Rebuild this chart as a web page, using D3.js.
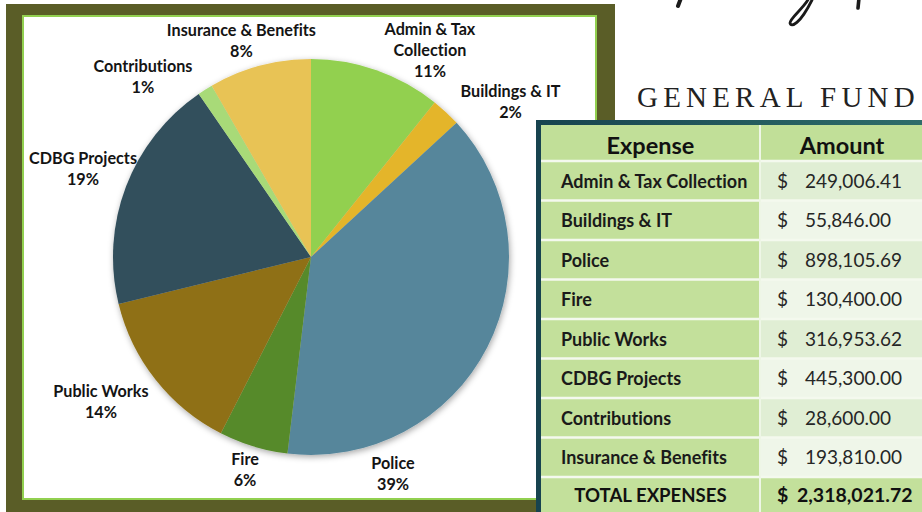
<!DOCTYPE html>
<html>
<head>
<meta charset="utf-8">
<script src="https://cdn.jsdelivr.net/npm/d3@7"></script>
<style>
  html, body { margin: 0; padding: 0; background: #ffffff; }
  svg { display: block; }
  text { font-variant-ligatures: none; font-feature-settings: "liga" 0, "clig" 0; }
</style>
</head>
<body>
<svg id="chart" width="922" height="512"></svg>
<script>
// ---------- data ----------
const categories = ["Admin & Tax Collection", "Buildings & IT", "Police", "Fire", "Public Works", "CDBG Projects", "Contributions", "Insurance & Benefits"];
const amounts = [249006.41, 55846.00, 898105.69, 130400.00, 316953.62, 445300.00, 28600.00, 193810.00];
const pieLabelLines = [["Admin & Tax", "Collection"], ["Buildings & IT"], ["Police"], ["Fire"], ["Public Works"], ["CDBG Projects"], ["Contributions"], ["Insurance & Benefits"]];
const tableHeaders = ["Expense", "Amount"];
const totalLabel = "TOTAL EXPENSES";
const titleText = "GENERAL FUND";

// ---------- styles / layout ----------
const sliceColors = ["#92d050", "#e4b52b", "#56869b", "#578a2b", "#8f7014", "#324f5c", "#a8da78", "#e8c355"];
// label placement (angle in degrees clockwise from 12 o'clock, distance as multiple of radius)
const labelPlacement = [[30.6, 1.18], [53.1, 1.26], [159.8, 1.20], [196.8, 1.153], [234.4, 1.305], [289.8, 1.224], [316.0, 1.222], [341.7, 1.12]];

const svg = d3.select("#chart");

// ---------- frame ----------
svg.append("rect").attr("x", 6).attr("y", 4).attr("width", 609).attr("height", 508).attr("fill", "#5a5d27");
svg.append("rect").attr("x", 22).attr("y", 15).attr("width", 575).attr("height", 485).attr("fill", "#92d050");
svg.append("rect").attr("x", 24).attr("y", 17).attr("width", 571).attr("height", 481).attr("fill", "#ffffff");

// ---------- pie ----------
const defs = svg.append("defs");
const f = defs.append("filter").attr("id", "shadow").attr("x", "-20%").attr("y", "-20%").attr("width", "140%").attr("height", "140%");
f.append("feDropShadow").attr("dx", 1).attr("dy", 2).attr("stdDeviation", 3).attr("flood-color", "#000").attr("flood-opacity", 0.35);

const cx = 311, cy = 257, R = 198;
const pie = d3.pie().sort(null).value(d => d);
const arcs = pie(amounts);
const arc = d3.arc().innerRadius(0).outerRadius(R);
const total = d3.sum(amounts);
const pct = d3.format(".0%");

const pg = svg.append("g").attr("transform", `translate(${cx},${cy})`);
pg.append("g").attr("filter", "url(#shadow)")
  .selectAll("path").data(arcs).join("path")
  .attr("d", arc)
  .attr("fill", (d, i) => sliceColors[i]);

const lineH = 21;
const lg = pg.append("g")
  .attr("font-family", "Lato, 'Noto Sans', sans-serif")
  .attr("font-weight", "bold")
  .attr("font-size", 16.2)
  .attr("fill", "#141414")
  .attr("text-anchor", "middle");
arcs.forEach((a, i) => {
  const [deg, k] = labelPlacement[i];
  const t = deg * Math.PI / 180;
  const x = Math.sin(t) * R * k, y = -Math.cos(t) * R * k;
  const lines = pieLabelLines[i].concat([pct(a.value / total)]);
  const n = lines.length;
  const txt = lg.append("text").attr("x", x).attr("y", y);
  lines.forEach((s, j) => {
    txt.append("tspan").attr("x", x).attr("y", y + (j - (n - 1) / 2) * lineH).text(s);
  });
});

// ---------- decorative script + title ----------
const sg = svg.append("g").attr("fill", "none").attr("stroke", "#1a1a1a").attr("stroke-linecap", "round");
sg.append("path").attr("d", "M681,-2 L678,6").attr("stroke-width", 4);
sg.append("path").attr("d", "M809,-2 C804,8 790,18 790,23 C791,28 800,24 812,0").attr("stroke-width", 2.8);
sg.append("path").attr("d", "M859,-2 L858,8").attr("stroke-width", 3.6);

svg.append("text").attr("x", 637).attr("y", 107)
  .attr("font-family", "'Liberation Serif', 'DejaVu Serif', serif")
  .attr("font-size", 29).attr("letter-spacing", 5.2).attr("fill", "#222")
  .text(titleText);

// ---------- table ----------
const tx0 = 536, tx1 = 940, colDiv = 760;
const headTop = 120, headBot = 161, bodyBot = 477, tableBot = 512;
const tg = svg.append("g");
tg.append("rect").attr("x", tx0 + 2).attr("y", headTop + 2).attr("width", tx1 - tx0).attr("height", tableBot - headTop)
  .attr("fill", "#000").attr("opacity", 0.15);
const grad = defs.append("linearGradient").attr("id", "bord").attr("x1", 0).attr("x2", 1).attr("y1", 0).attr("y2", 0);
grad.append("stop").attr("offset", 0).attr("stop-color", "#17434f");
grad.append("stop").attr("offset", 1).attr("stop-color", "#2f6f6c");
tg.append("rect").attr("x", tx0).attr("y", headTop).attr("width", tx1 - tx0).attr("height", tableBot - headTop).attr("fill", "url(#bord)");
tg.append("rect").attr("x", tx0).attr("y", headTop + 4).attr("width", 6).attr("height", tableBot - headTop).attr("fill", "#17434f");

const cellL = tx0 + 5, cellT = headTop + 5;
const yRow = d3.scaleBand().domain(categories).range([headBot, bodyBot]);
const leftFill = "#c3e09b";
const rightFills = ["#e0eed4", "#eff6e9"];

// header
tg.append("rect").attr("x", cellL).attr("y", cellT).attr("width", tx1 - cellL).attr("height", headBot - cellT).attr("fill", "#c1df98");
// body rows
categories.forEach((c, i) => {
  const y = yRow(c), h = yRow.bandwidth();
  tg.append("rect").attr("x", cellL).attr("y", y).attr("width", colDiv - cellL).attr("height", h).attr("fill", leftFill);
  tg.append("rect").attr("x", colDiv).attr("y", y).attr("width", tx1 - colDiv).attr("height", h).attr("fill", rightFills[i % 2]);
});
// total row
tg.append("rect").attr("x", cellL).attr("y", bodyBot).attr("width", tx1 - cellL).attr("height", tableBot - bodyBot).attr("fill", "#c3e09b");
// separators
const seps = [headBot].concat(categories.map(c => yRow(c) + yRow.bandwidth()));
tg.selectAll("line.h").data(seps).join("line")
  .attr("x1", cellL).attr("x2", tx1).attr("y1", d => d).attr("y2", d => d)
  .attr("stroke", "#f4f9ee").attr("stroke-width", 2.5);
tg.append("line").attr("x1", colDiv).attr("x2", colDiv).attr("y1", cellT).attr("y2", tableBot)
  .attr("stroke", "#eef6e6").attr("stroke-width", 2);

const font = "Lato, 'Noto Sans', sans-serif";
const money = d3.format(",.2f");
// header text
tg.append("text").attr("x", (cellL + colDiv) / 2).attr("y", 154).attr("text-anchor", "middle")
  .attr("font-family", font).attr("font-weight", "bold").attr("font-size", 23.5).attr("fill", "#111").text(tableHeaders[0]);
tg.append("text").attr("x", 842).attr("y", 154).attr("text-anchor", "middle")
  .attr("font-family", font).attr("font-weight", "bold").attr("font-size", 23.5).attr("fill", "#111").text(tableHeaders[1]);

categories.forEach((c, i) => {
  const yb = yRow(c) + yRow.bandwidth() / 2 + 7;
  tg.append("text").attr("x", 561).attr("y", yb).attr("font-family", font).attr("font-weight", "bold")
    .attr("font-size", 18).attr("fill", "#1a1a1a").text(c);
  tg.append("text").attr("x", 777).attr("y", yb).attr("font-family", font)
    .attr("font-size", 19).attr("fill", "#262626").text("$");
  tg.append("text").attr("x", 805).attr("y", yb).attr("font-family", font)
    .attr("font-size", 19).attr("fill", "#262626").text(money(amounts[i]));
});
const ybt = (bodyBot + tableBot) / 2 + 7;
tg.append("text").attr("x", (cellL + colDiv) / 2).attr("y", ybt).attr("text-anchor", "middle")
  .attr("font-family", font).attr("font-weight", "bold").attr("font-size", 18.6).attr("fill", "#111").text(totalLabel);
tg.append("text").attr("x", 777).attr("y", ybt).attr("font-family", font).attr("font-weight", "bold")
  .attr("font-size", 19.5).attr("fill", "#111").text("$");
tg.append("text").attr("x", 797).attr("y", ybt).attr("font-family", font).attr("font-weight", "bold")
  .attr("font-size", 19.5).attr("fill", "#111").text(money(total));
</script>
</body>
</html>
